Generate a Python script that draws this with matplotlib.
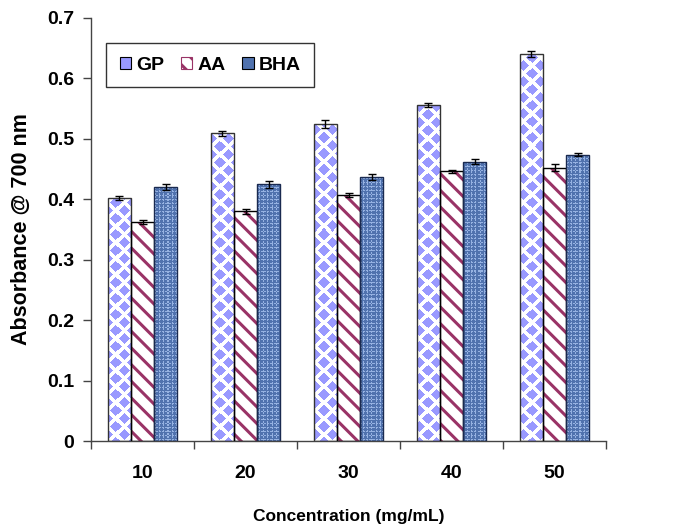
import numpy as np
import matplotlib
matplotlib.use("Agg")
import matplotlib.pyplot as plt
from matplotlib.patches import Patch

plt.rcParams['font.family'] = ['Liberation Sans', 'DejaVu Sans']
plt.rcParams['font.weight'] = 'bold'
plt.rcParams['hatch.linewidth'] = 2.2

categories = ['10', '20', '30', '40', '50']
series_names = ['GP', 'AA', 'BHA']
gp = [0.402, 0.509, 0.525, 0.556, 0.641]
aa = [0.362, 0.380, 0.407, 0.446, 0.452]
bha = [0.420, 0.425, 0.437, 0.462, 0.474]
gp_err = [0.004, 0.004, 0.007, 0.004, 0.005]
aa_err = [0.003, 0.004, 0.003, 0.002, 0.006]
bha_err = [0.005, 0.006, 0.005, 0.004, 0.003]
yticks = [0, 0.1, 0.2, 0.3, 0.4, 0.5, 0.6, 0.7]
ytick_labels = ['0', '0.1', '0.2', '0.3', '0.4', '0.5', '0.6', '0.7']

W, H = 674, 525
fig = plt.figure(figsize=(W / 100, H / 100), dpi=100)
ax = fig.add_axes([91 / W, 1 - 441 / H, (606 - 91) / W, (441 - 18) / H])

x = np.arange(len(categories))
bw = 0.224
offsets = [-bw, 0, bw]

# pattern images (display-pixel sized)
aw, ah = 606 - 91, 441 - 18
yy, xx = np.mgrid[0:ah, 0:aw]
d1 = np.abs(((xx + 8) % 16) - 8) + np.abs(((yy + 8) % 16) - 8)
d2 = np.abs((xx % 16) - 8) + np.abs((yy % 16) - 8)
diam = np.minimum(d1, d2) < 5.8
gp_img = np.ones((ah, aw, 3))
gp_img[diam] = np.array([0x99, 0x99, 0xFF]) / 255

weave = ((xx % 4 == 0) & (yy % 3 != 0)) | ((yy % 4 == 1) & (xx % 3 != 1))
bha_img = np.zeros((ah, aw, 3))
bha_img[:] = np.array([0x50, 0x72, 0xAE]) / 255
bha_img[weave] = np.array([0x96, 0xB2, 0xE2]) / 255

# GP bars
gp_bars = ax.bar(x + offsets[0], gp, bw, color='white', edgecolor='none', zorder=2)
for b in gp_bars:
    im = ax.imshow(gp_img, extent=[0, 1, 0, 1], transform=ax.transAxes,
                   aspect='auto', zorder=2.1, interpolation='nearest')
    im.set_clip_path(b)
ax.bar(x + offsets[0], gp, bw, fill=False, edgecolor='#333333', linewidth=1.0, zorder=3)

# AA bars
ax.bar(x + offsets[1], aa, bw, color='white', edgecolor='#993366', hatch='\\\\',
       linewidth=0, zorder=2)
ax.bar(x + offsets[1], aa, bw, fill=False, edgecolor='black', linewidth=1.0, zorder=3)

# BHA bars
bha_bars = ax.bar(x + offsets[2], bha, bw, color='#5072AE', edgecolor='none', zorder=2)
for b in bha_bars:
    im = ax.imshow(bha_img, extent=[0, 1, 0, 1], transform=ax.transAxes,
                   aspect='auto', zorder=2.1, interpolation='nearest')
    im.set_clip_path(b)
ax.bar(x + offsets[2], bha, bw, fill=False, edgecolor='#1A2A50', linewidth=1.0, zorder=3)

for off, vals, errs in zip(offsets, [gp, aa, bha], [gp_err, aa_err, bha_err]):
    ax.errorbar(x + off, vals, yerr=errs, fmt='none', ecolor='black',
                elinewidth=1.0, capsize=3, capthick=1.0, zorder=4)

ax.set_xlim(-0.5, len(categories) - 0.5)
ax.set_ylim(0, 0.7)
ax.set_yticks(yticks)
ax.set_yticklabels(ytick_labels)
ax.set_xticks(x)
ax.set_xticklabels(categories)
ax.set_xticks(np.arange(len(categories) + 1) - 0.5, minor=True)
ax.tick_params(axis='x', which='major', length=0, pad=17, labelsize=14)
ax.tick_params(axis='x', which='minor', length=6, width=1, color='#444444')
ax.tick_params(axis='y', length=6, width=1, color='#444444', labelsize=14, pad=6)
for s in ['top', 'right']:
    ax.spines[s].set_visible(False)
for s in ['left', 'bottom']:
    ax.spines[s].set_color('#444444')
    ax.spines[s].set_linewidth(1)

ax.set_xlabel('Concentration (mg/mL)', fontsize=12.5, fontweight='bold', labelpad=20)
ax.set_ylabel('Absorbance @ 700 nm', fontsize=15.5, fontweight='bold', labelpad=11)

handles = [
    Patch(facecolor='#9999FF', edgecolor='black', linewidth=0.8),
    Patch(facecolor='white', edgecolor='#993366', hatch='\\\\', linewidth=0.8),
    Patch(facecolor='#5072AE', edgecolor='black', linewidth=0.8),
]
leg = ax.legend(handles, series_names, loc='upper left', bbox_to_anchor=(0.029, 0.941),
                borderaxespad=0, ncol=3, frameon=True, fancybox=False, edgecolor='black',
                fontsize=14, handlelength=0.6, handleheight=0.6, handletextpad=0.25,
                columnspacing=0.85, borderpad=0.7)
leg.get_frame().set_linewidth(1.0)

fig.savefig('out.png', dpi=100)
